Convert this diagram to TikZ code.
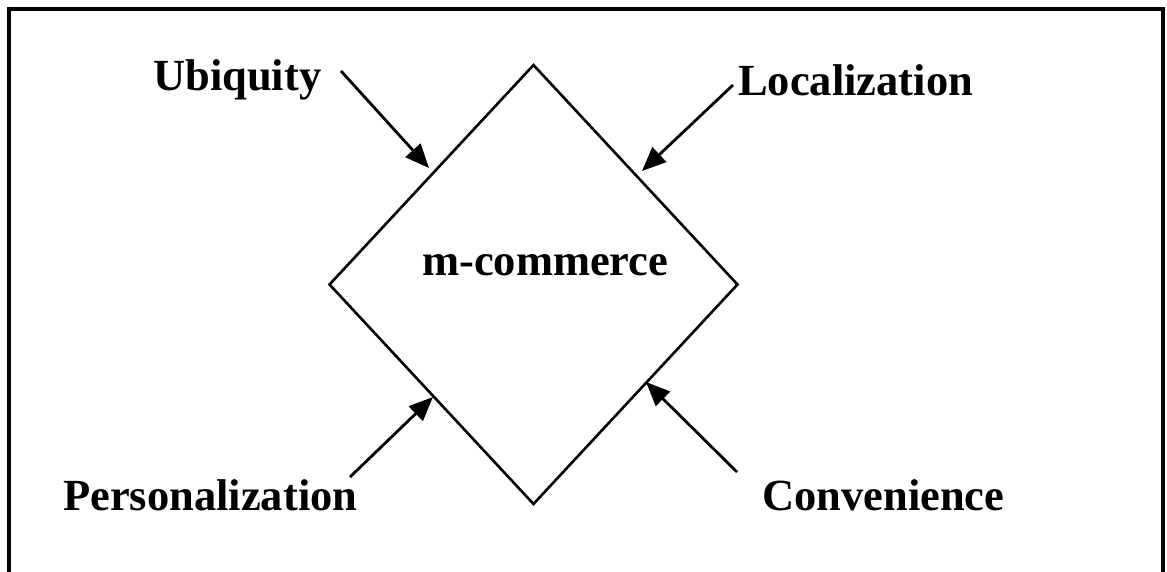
\documentclass[tikz,border=0pt]{standalone}
\usepackage{fontspec}
\setmainfont{Liberation Serif}
\usetikzlibrary{arrows.meta,shapes.geometric}
\begin{document}
\begin{tikzpicture}[x=1pt,y=-1pt,
  lbl/.style={anchor=base west,inner sep=0pt,font=\fontsize{44.5}{50}\selectfont\bfseries},
  conn/.style={line width=2.8pt,-{Triangle[length=24pt,width=20pt]}},
  frameline/.style={line width=3.2pt},
  dia/.style={draw,diamond,line width=2.6pt,inner sep=0pt,minimum width=409pt,minimum height=440pt}]
\useasboundingbox (0,0) rectangle (1167,571);
\draw[frameline] (9,572) -- (9,9) -- (1163,9) -- (1163,572);
\node[dia] (d) at (533.5,284.5) {};
\node[lbl] (mc) at (422,275) {m-commerce};
\node[lbl] (ub) at (153,90) {Ubiquity};
\node[lbl] (lo) at (738,95) {Localization};
\node[lbl] (pe) at (63,510) {Personalization};
\node[lbl] (co) at (762,510) {Convenience};
\coordinate (ub1) at (341,71);
\coordinate (ub2) at (429,168);
\coordinate (lo1) at (733,85);
\coordinate (lo2) at (642,171);
\coordinate (pe1) at (350,477);
\coordinate (pe2) at (433,397);
\coordinate (co1) at (737,472);
\coordinate (co2) at (646,382);
\draw[conn] (ub1) -- (ub2);
\draw[conn] (lo1) -- (lo2);
\draw[conn] (pe1) -- (pe2);
\draw[conn] (co1) -- (co2);
\end{tikzpicture}
\end{document}
